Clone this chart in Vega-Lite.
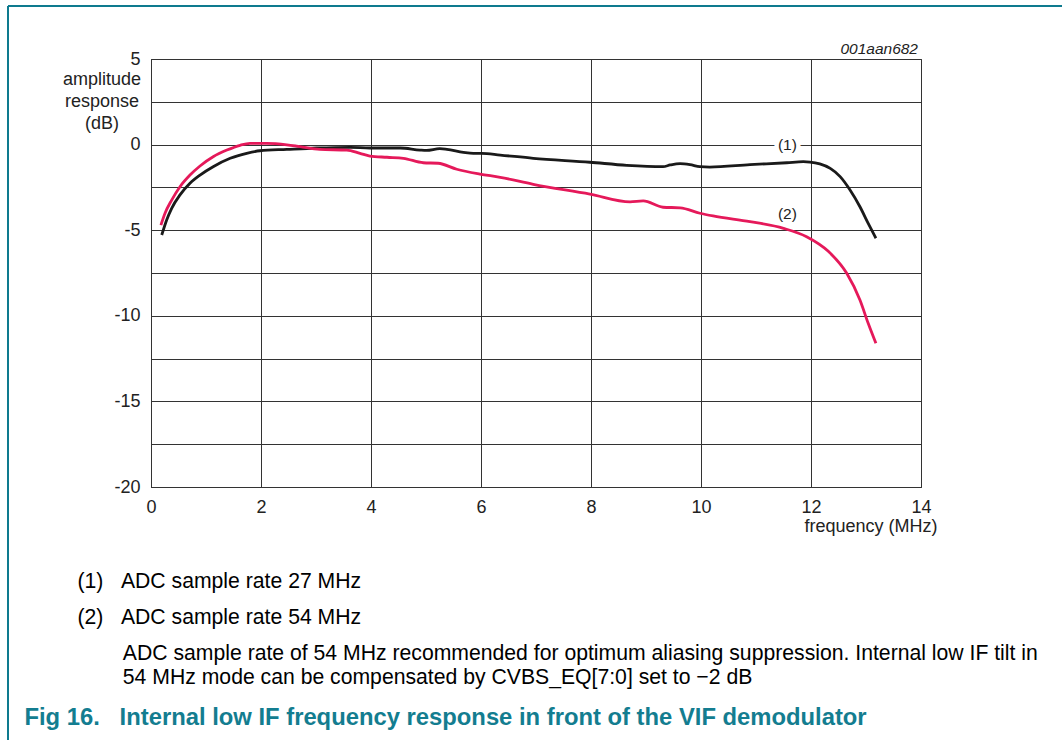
{
  "$schema": "https://vega.github.io/schema/vega-lite/v6.json",
  "width": 770,
  "height": 428,
  "autosize": "none",
  "padding": {"left": 151, "top": 59, "right": 141, "bottom": 253},
  "background": "white",
  "config": {
    "font": "Liberation Sans",
    "view": {"stroke": "#333", "strokeWidth": 1}
  },
  "title": {
    "text": [
      "\u200b\u00a0\u00a0\u00a0\u00a0\u00a0\u00a0\u00a0\u00a0\u00a0(1)\u00a0\u00a0\u00a0ADC sample rate 27 MHz",
      "\u200b",
      "\u200b",
      "\u200b\u00a0\u00a0\u00a0\u00a0\u00a0\u00a0\u00a0\u00a0\u00a0(2)\u00a0\u00a0\u00a0ADC sample rate 54 MHz",
      "\u200b",
      "\u200b",
      "\u200b\u00a0\u00a0\u00a0\u00a0\u00a0\u00a0\u00a0\u00a0\u00a0\u00a0\u00a0\u00a0\u00a0\u00a0\u00a0\u00a0\u2009ADC sample rate of 54 MHz recommended for optimum aliasing suppression. Internal low IF tilt in",
      "\u200b",
      "\u200b\u00a0\u00a0\u00a0\u00a0\u00a0\u00a0\u00a0\u00a0\u00a0\u00a0\u00a0\u00a0\u00a0\u00a0\u00a0\u00a0\u200954 MHz mode can be compensated by CVBS_EQ[7:0] set to \u22122 dB"
    ],
    "subtitle": "Fig 16.\u00a0\u00a0\u00a0Internal low IF frequency response in front of the VIF demodulator",
    "orient": "bottom",
    "anchor": "start",
    "frame": "group",
    "dx": -126.6,
    "offset": -174,
    "limit": 0,
    "font": "Liberation Sans",
    "fontSize": 21.2,
    "fontWeight": "normal",
    "color": "#000000",
    "lineHeight": 12,
    "subtitleFont": "Liberation Sans",
    "subtitleFontSize": 23.8,
    "subtitleFontWeight": "bold",
    "subtitleColor": "#137d90",
    "subtitlePadding": 18
  },
  "data": {
    "values": [
      {"series": "(1)", "freq": 0.195, "db": -5.28},
      {"series": "(1)", "freq": 0.285, "db": -4.40},
      {"series": "(1)", "freq": 0.376, "db": -3.72},
      {"series": "(1)", "freq": 0.527, "db": -2.94},
      {"series": "(1)", "freq": 0.709, "db": -2.26},
      {"series": "(1)", "freq": 0.891, "db": -1.78},
      {"series": "(1)", "freq": 1.13, "db": -1.29},
      {"series": "(1)", "freq": 1.44, "db": -0.80},
      {"series": "(1)", "freq": 1.74, "db": -0.51},
      {"series": "(1)", "freq": 1.98, "db": -0.36},
      {"series": "(1)", "freq": 2.47, "db": -0.28},
      {"series": "(1)", "freq": 3.01, "db": -0.20},
      {"series": "(1)", "freq": 3.62, "db": -0.16},
      {"series": "(1)", "freq": 3.98, "db": -0.20},
      {"series": "(1)", "freq": 4.53, "db": -0.20},
      {"series": "(1)", "freq": 4.89, "db": -0.32},
      {"series": "(1)", "freq": 5.01, "db": -0.34},
      {"series": "(1)", "freq": 5.25, "db": -0.24},
      {"series": "(1)", "freq": 5.38, "db": -0.28},
      {"series": "(1)", "freq": 5.68, "db": -0.45},
      {"series": "(1)", "freq": 5.86, "db": -0.51},
      {"series": "(1)", "freq": 6.01, "db": -0.51},
      {"series": "(1)", "freq": 6.35, "db": -0.61},
      {"series": "(1)", "freq": 6.95, "db": -0.80},
      {"series": "(1)", "freq": 7.98, "db": -1.03},
      {"series": "(1)", "freq": 8.65, "db": -1.21},
      {"series": "(1)", "freq": 9.31, "db": -1.29},
      {"series": "(1)", "freq": 9.44, "db": -1.19},
      {"series": "(1)", "freq": 9.62, "db": -1.11},
      {"series": "(1)", "freq": 9.80, "db": -1.17},
      {"series": "(1)", "freq": 9.98, "db": -1.29},
      {"series": "(1)", "freq": 10.16, "db": -1.31},
      {"series": "(1)", "freq": 10.89, "db": -1.17},
      {"series": "(1)", "freq": 11.56, "db": -1.06},
      {"series": "(1)", "freq": 11.86, "db": -1.00},
      {"series": "(1)", "freq": 11.98, "db": -1.02},
      {"series": "(1)", "freq": 12.16, "db": -1.13},
      {"series": "(1)", "freq": 12.35, "db": -1.39},
      {"series": "(1)", "freq": 12.53, "db": -1.87},
      {"series": "(1)", "freq": 12.71, "db": -2.65},
      {"series": "(1)", "freq": 12.89, "db": -3.63},
      {"series": "(1)", "freq": 13.04, "db": -4.60},
      {"series": "(1)", "freq": 13.18, "db": -5.47},
      {"series": "(2)", "freq": 0.18, "db": -4.70},
      {"series": "(2)", "freq": 0.255, "db": -4.01},
      {"series": "(2)", "freq": 0.376, "db": -3.24},
      {"series": "(2)", "freq": 0.527, "db": -2.46},
      {"series": "(2)", "freq": 0.709, "db": -1.78},
      {"series": "(2)", "freq": 0.891, "db": -1.25},
      {"series": "(2)", "freq": 1.13, "db": -0.71},
      {"series": "(2)", "freq": 1.38, "db": -0.32},
      {"series": "(2)", "freq": 1.62, "db": -0.04},
      {"series": "(2)", "freq": 1.80, "db": 0.07},
      {"series": "(2)", "freq": 2.10, "db": 0.07},
      {"series": "(2)", "freq": 2.47, "db": -0.01},
      {"series": "(2)", "freq": 2.71, "db": -0.12},
      {"series": "(2)", "freq": 3.07, "db": -0.28},
      {"series": "(2)", "freq": 3.56, "db": -0.32},
      {"series": "(2)", "freq": 3.80, "db": -0.51},
      {"series": "(2)", "freq": 3.98, "db": -0.67},
      {"series": "(2)", "freq": 4.29, "db": -0.74},
      {"series": "(2)", "freq": 4.59, "db": -0.80},
      {"series": "(2)", "freq": 4.95, "db": -1.06},
      {"series": "(2)", "freq": 5.22, "db": -1.09},
      {"series": "(2)", "freq": 5.56, "db": -1.44},
      {"series": "(2)", "freq": 5.98, "db": -1.72},
      {"series": "(2)", "freq": 6.35, "db": -1.91},
      {"series": "(2)", "freq": 6.95, "db": -2.32},
      {"series": "(2)", "freq": 7.98, "db": -2.89},
      {"series": "(2)", "freq": 8.71, "db": -3.34},
      {"series": "(2)", "freq": 8.95, "db": -3.29},
      {"series": "(2)", "freq": 9.31, "db": -3.66},
      {"series": "(2)", "freq": 9.62, "db": -3.69},
      {"series": "(2)", "freq": 9.98, "db": -4.01},
      {"series": "(2)", "freq": 10.22, "db": -4.17},
      {"series": "(2)", "freq": 10.89, "db": -4.50},
      {"series": "(2)", "freq": 11.50, "db": -4.89},
      {"series": "(2)", "freq": 11.92, "db": -5.38},
      {"series": "(2)", "freq": 12.32, "db": -6.25},
      {"series": "(2)", "freq": 12.65, "db": -7.52},
      {"series": "(2)", "freq": 12.89, "db": -9.08},
      {"series": "(2)", "freq": 13.04, "db": -10.44},
      {"series": "(2)", "freq": 13.18, "db": -11.61}
    ]
  },
  "layer": [
    {
      "mark": {"type": "line", "interpolate": "monotone", "strokeWidth": 2.8, "clip": true},
      "encoding": {
        "x": {
          "field": "freq",
          "type": "quantitative",
          "scale": {"domain": [0, 14], "nice": false, "zero": false},
          "axis": {
            "values": [0, 2, 4, 6, 8, 10, 12, 14],
            "format": "d",
            "labelFlush": false,
            "labelFontSize": 18,
            "labelColor": "#222",
            "labelPadding": 11,
            "ticks": false,
            "grid": true,
            "gridColor": "#333",
            "gridWidth": 1,
            "gridOpacity": 1,
            "domainColor": "#333",
            "domainWidth": 1,
            "title": "frequency (MHz)",
            "titleFontSize": 18,
            "titleFontWeight": "normal",
            "titleColor": "#222",
            "titleAlign": "right",
            "titleBaseline": "alphabetic",
            "titleX": 786,
            "titleY": 44
          }
        },
        "y": {
          "field": "db",
          "type": "quantitative",
          "scale": {"domain": [-20, 5], "nice": false, "zero": false},
          "axis": {
            "values": [-20, -17.5, -15, -12.5, -10, -7.5, -5, -2.5, 0, 2.5, 5],
            "labelExpr": "datum.value % 5 === 0 ? '' + datum.value : ''",
            "labelOverlap": false,
            "labelFontSize": 18,
            "labelColor": "#222",
            "labelPadding": 11,
            "labelBaseline": "middle",
            "ticks": false,
            "grid": true,
            "gridColor": "#333",
            "gridWidth": 1,
            "gridOpacity": 1,
            "domainColor": "#333",
            "domainWidth": 1,
            "title": ["amplitude", "response", "(dB)"],
            "titleAngle": 0,
            "titleAlign": "center",
            "titleBaseline": "alphabetic",
            "titleFontSize": 18,
            "titleFontWeight": "normal",
            "titleColor": "#222",
            "titleLineHeight": 22.3,
            "titleX": -49.5,
            "titleY": 25
          }
        },
        "color": {
          "field": "series",
          "type": "nominal",
          "scale": {"domain": ["(1)", "(2)"], "range": ["#1a1a1a", "#e5195a"]},
          "legend": null
        },
        "order": {"field": "freq", "type": "quantitative"}
      }
    },
    {
      "data": {"values": [{}]},
      "mark": {"type": "text", "text": "(1)", "fontSize": 15.5, "fill": "white", "stroke": "white", "strokeWidth": 9, "align": "center", "baseline": "middle"},
      "encoding": {
        "x": {"datum": 11.57, "type": "quantitative"},
        "y": {"datum": 0, "type": "quantitative"}
      }
    },
    {
      "data": {"values": [{}]},
      "mark": {"type": "text", "text": "(1)", "fontSize": 15.5, "fill": "#222", "align": "center", "baseline": "middle"},
      "encoding": {
        "x": {"datum": 11.57, "type": "quantitative"},
        "y": {"datum": 0, "type": "quantitative"}
      }
    },
    {
      "data": {"values": [{}]},
      "mark": {"type": "text", "text": "(2)", "fontSize": 15.5, "fill": "#222", "align": "center", "baseline": "middle"},
      "encoding": {
        "x": {"datum": 11.57, "type": "quantitative"},
        "y": {"datum": -4.07, "type": "quantitative"}
      }
    },
    {
      "data": {"values": [{}]},
      "mark": {"type": "text", "text": "001aan682", "fontSize": 15.5, "fontStyle": "italic", "fill": "#222", "align": "right", "baseline": "alphabetic", "dx": -3, "dy": -5},
      "encoding": {
        "x": {"datum": 14, "type": "quantitative"},
        "y": {"datum": 5, "type": "quantitative"}
      }
    },
    {
      "data": {"values": [{}]},
      "mark": {"type": "rule", "color": "#0e7a8e", "strokeWidth": 2},
      "encoding": {
        "x": {"datum": -2.6, "type": "quantitative"},
        "x2": {"datum": 16.6},
        "y": {"datum": 8.1, "type": "quantitative"}
      }
    },
    {
      "data": {"values": [{}]},
      "mark": {"type": "rule", "color": "#0e7a8e", "strokeWidth": 2},
      "encoding": {
        "x": {"datum": -2.6, "type": "quantitative"},
        "y": {"datum": 8.1, "type": "quantitative"},
        "y2": {"datum": -35}
      }
    }
  ]
}
